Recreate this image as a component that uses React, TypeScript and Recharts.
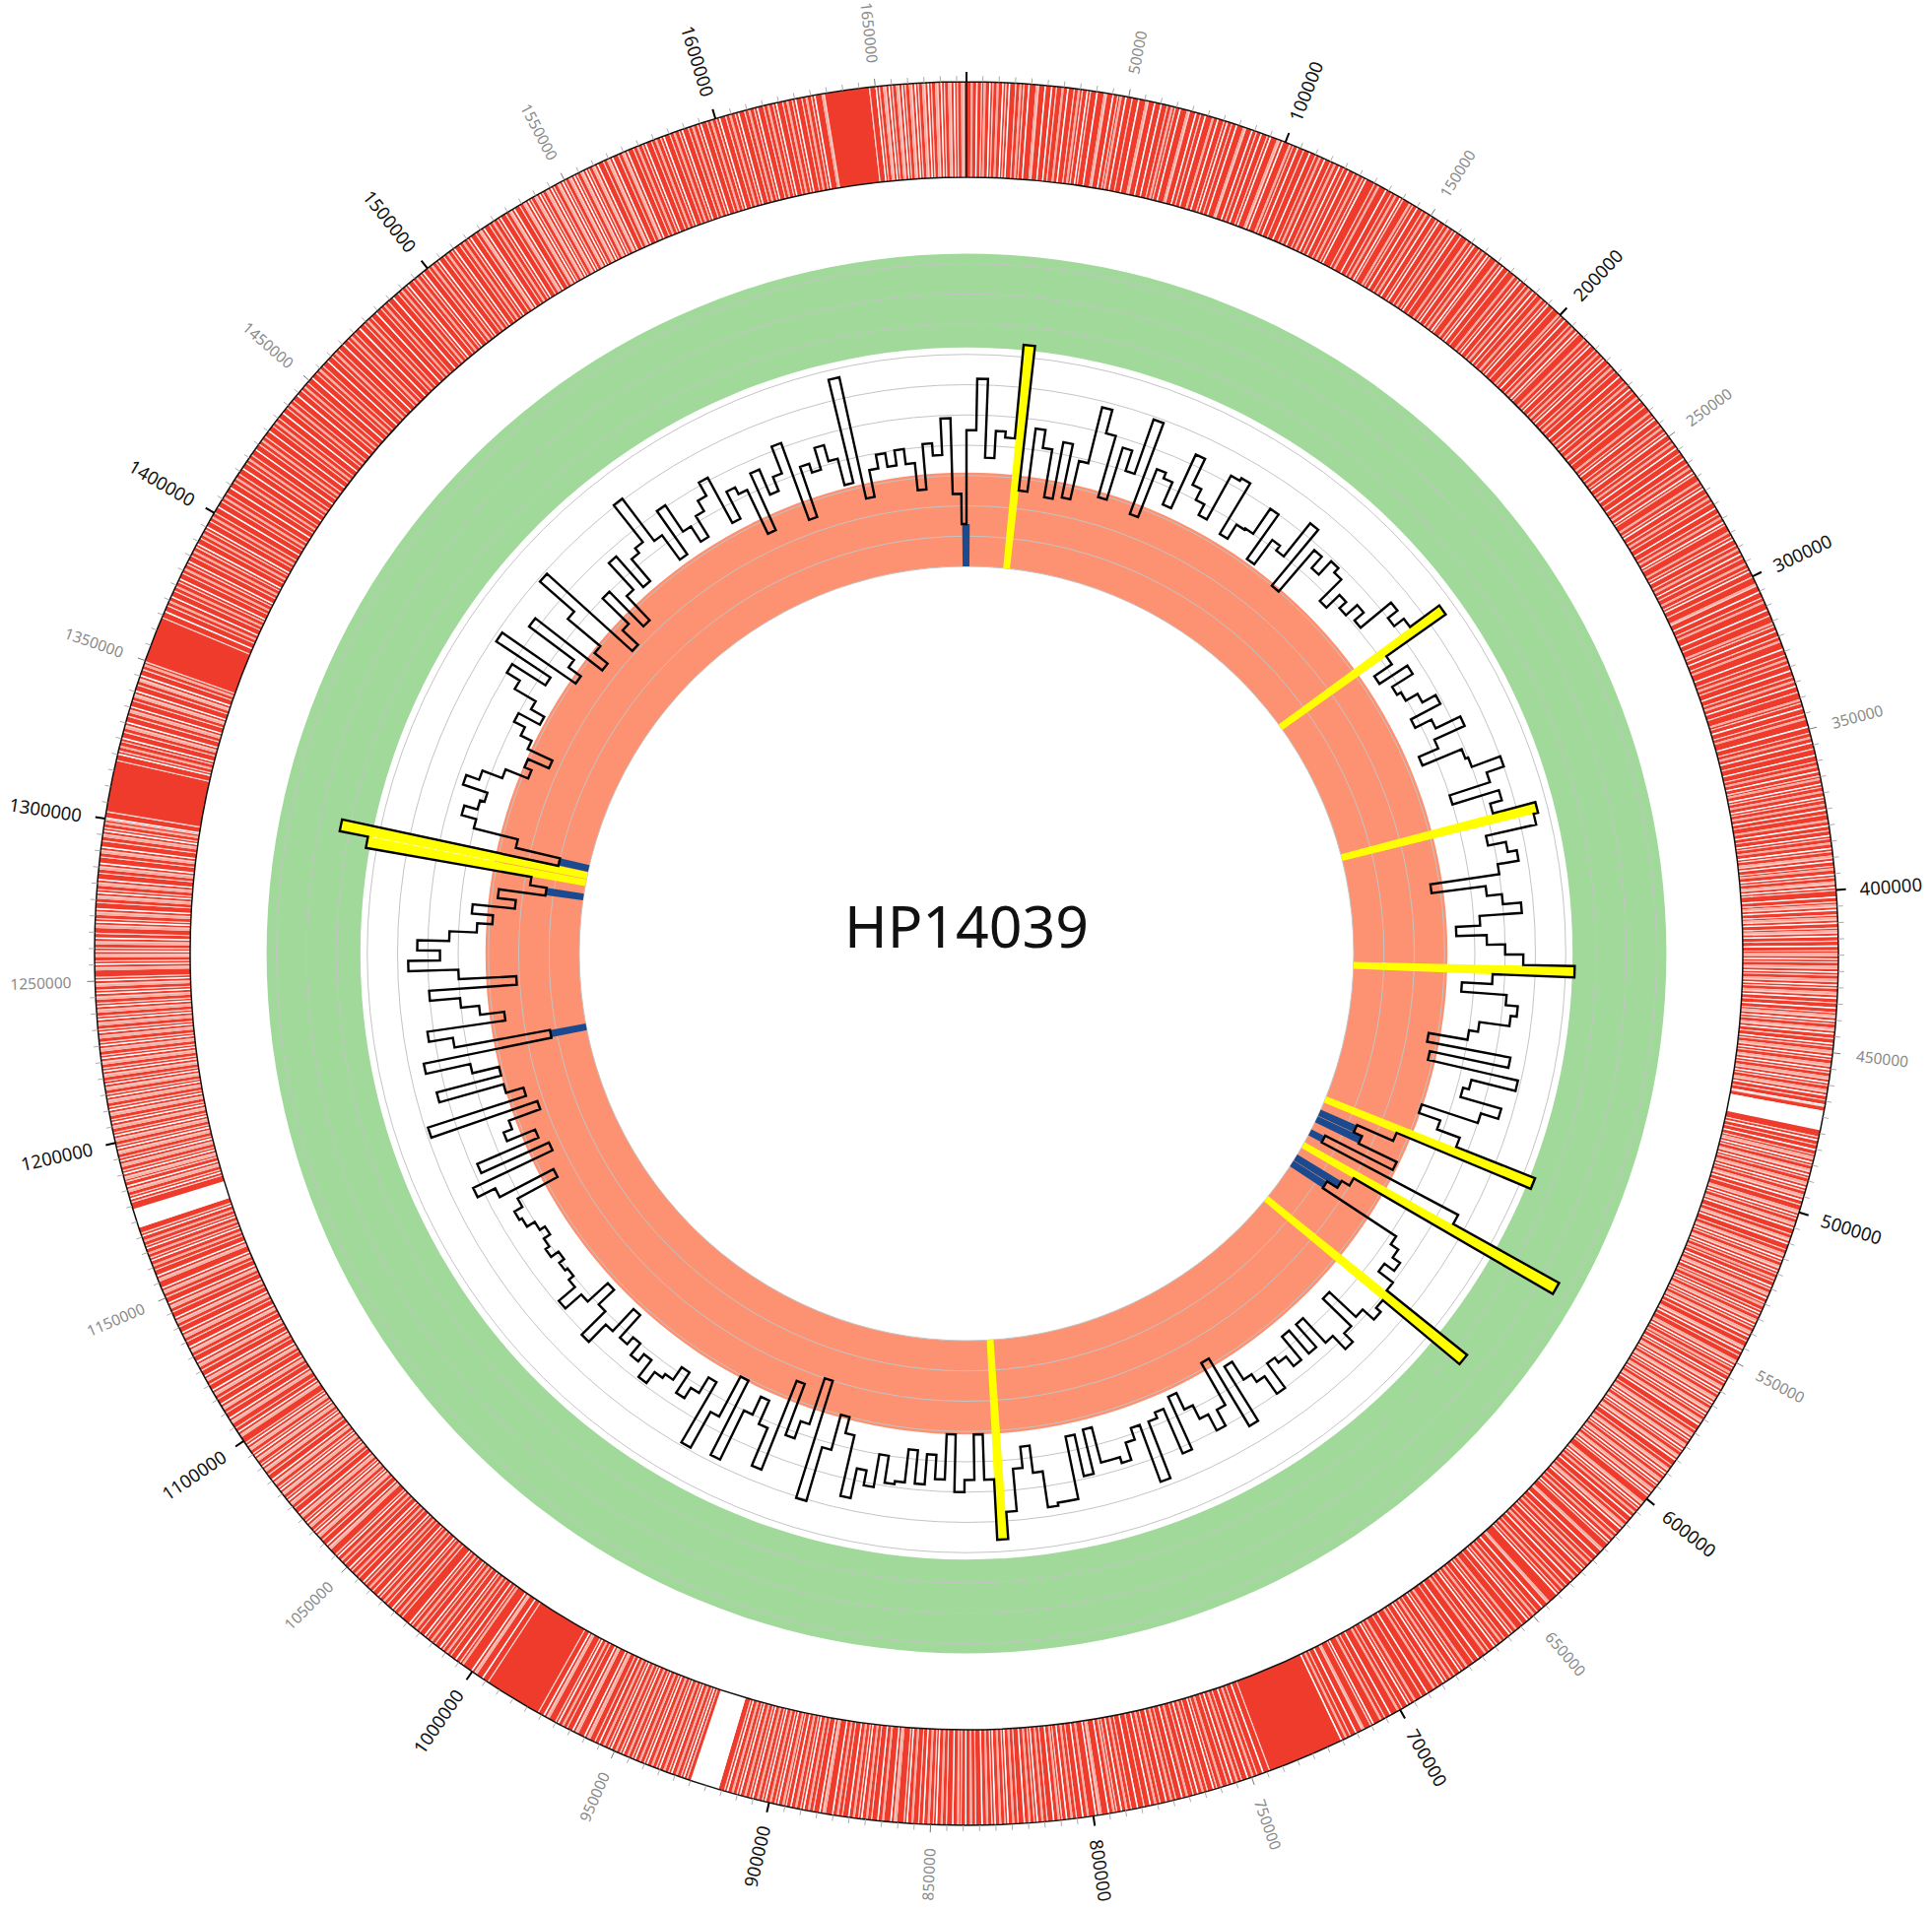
import React from "react";
import {
  Cell,
  Label,
  Pie,
  PieChart,
  PolarAngleAxis,
  PolarGrid,
  PolarRadiusAxis,
  Radar,
  RadarChart,
  RadialBar,
  RadialBarChart,
} from "recharts";

const GENOME_NAME = "HP14039";
const GENOME_LENGTH = 1678000;
const WINDOW = 5000;

// step track, one value per 5 kb window (grid units, 0 = inner edge of salmon band)
const windowValues = [
  4.5, 6.2, 3.6, 4.5, 4.3, 7.4, 2.6, 4.7, 4.1, 2.5,
  4.4, 2.6, 3.9, 5.8, 5.0, 2.9, 4.7, 4.0, 5.9, 2.7,
  4.4, 4.2, 3.4, 5.35, 4.4, 4.0, 3.6, 5.25, 5.35, 3.4,
  3.95, 4.0, 5.0, 3.2, 4.2, 4.0, 5.4, 3.0, 4.8, 4.3,
  4.9, 4.7, 3.7, 4.3, 4.0, 4.5, 4.1, 5.4, 5.0, 5.4,
  6.6, 4.2, 3.5, 4.6, 3.8, 3.95, 4.4, 4.9, 3.8, 4.4,
  5.3, 4.2, 3.5, 4.9, 5.0, 6.0, 5.4, 4.0, 5.6, 5.2,
  6.65, 6.5, 4.8, 5.4, 5.7, 5.0, 2.7, 4.5, 5.0, 5.6,
  4.2, 3.4, 4.4, 5.0, 5.6, 7.3, 4.6, 3.6, 5.1, 5.5,
  5.3, 4.3, 4.0, 2.7, 5.5, 2.85, 5.9, 4.4, 4.2, 5.6,
  5.0, 3.05, 3.8, 4.6, 7.4, 2.6, 1.3, 1.6, 3.0, 0.5,
  5.6, 9.6, 2.0, 1.7, 1.3, 4.2, 4.5, 4.8, 4.4, 5.0,
  8.4, 5.1, 5.3, 4.8, 3.6, 4.9, 5.3, 4.7, 3.6, 4.6,
  3.6, 4.6, 4.2, 4.0, 5.0, 4.3, 4.0, 3.3, 5.4, 2.8,
  4.4, 5.0, 4.4, 3.9, 3.3, 5.2, 3.6, 3.8, 5.8, 3.8,
  4.2, 4.8, 4.6, 4.6, 3.4, 4.9, 3.5, 5.6, 5.6, 5.7,
  4.5, 3.6, 4.3, 5.7, 6.6, 4.6, 3.1, 4.6, 5.0, 3.1,
  4.6, 3.8, 4.8, 3.7, 4.8, 4.9, 4.0, 5.1, 4.6, 5.6,
  3.55, 3.0, 4.2, 6.05, 2.0, 3.6, 4.2, 2.4, 5.55, 4.2,
  3.35, 4.0, 5.8, 3.05, 4.55, 5.9, 3.6, 4.2, 4.6, 3.8,
  4.3, 4.45, 4.9, 4.2, 4.5, 4.0, 4.3, 3.3, 4.3, 5.1,
  4.0, 3.3, 4.2, 4.9, 4.2, 4.0, 4.1, 3.9, 4.2, 4.05,
  3.8, 4.0, 4.3, 4.4, 4.1, 2.6, 4.6, 5.25, 2.35, 4.8,
  2.6, 3.6, 3.3, 2.2, 5.9, 2.5, 3.1, 5.3, 3.1, 4.0,
  5.5, 1.2, 4.4, 5.2, 2.6, 3.4, 4.0, 5.0, 2.1, 4.0,
  5.65, 4.6, 5.35, 4.3, 3.4, 2.9, 3.6, 2.2, 2.8, 1.25,
  1.8, 7.35, 8.3, 1.0, 2.5, 4.0, 4.5, 4.05, 3.9, 4.75,
  4.3, 3.6, 2.8, 3.05, 2.3, 3.2, 3.6, 4.0, 3.2, 3.7,
  4.5, 5.0, 3.7, 5.85, 2.9, 3.4, 5.25, 2.45, 3.0, 4.4,
  5.9, 2.1, 2.8, 4.0, 2.4, 3.5, 4.7, 3.35, 4.3, 4.5,
  6.05, 4.3, 3.3, 5.05, 4.0, 3.4, 4.2, 4.6, 5.1, 3.4,
  4.4, 4.15, 2.55, 4.6, 3.7, 4.2, 5.15, 2.45, 4.2, 3.9,
  4.65, 4.1, 3.2, 6.7, 2.6, 3.5, 3.95, 3.5, 4.0, 3.5,
  2.6, 4.1, 3.7, 4.9, 2.4, 1.4,
];

// windows highlighted as high (yellow) and low (blue)
const yellowWindows = [5, 50, 70, 85, 104, 111, 120, 164, 261, 262];
const blueWindows = [106, 107, 109, 113, 114, 241, 259, 263, 335];

// feature ring: light stripes (kb) and wider empty stretches
const whiteStripesKb = [
  3, 7, 11, 13, 19, 24, 26, 31, 37, 40, 45, 49, 53, 58, 60, 66, 71, 74, 78, 81, 84, 89, 92, 95, 99,
  104, 108, 113, 118, 121, 127, 134, 139, 145, 150, 153, 159, 166, 171, 177, 184, 189, 195,
  202, 207, 213, 219, 226, 231, 236, 243, 249, 254, 258, 263, 269, 276, 281, 287, 292, 298,
  305, 311, 318, 324, 331, 336, 343, 349, 354, 358, 363, 367, 371, 375, 380, 383, 387, 391, 395, 399,
  402, 406, 410, 414, 417, 421, 425, 429, 433, 436, 440, 444, 447, 451, 455, 459, 463, 466, 477, 480, 484, 488, 492, 496,
  501, 505, 510, 515, 519, 524, 528, 533, 537, 541, 546, 551, 556, 560, 564, 568, 572, 577, 581, 585, 590, 594, 598,
  603, 607, 612, 617, 623, 629, 634, 640, 646, 652, 659, 665, 671, 678, 684, 690, 697,
  703, 709, 715, 720, 746, 751, 756, 762, 767, 772, 777, 782, 786, 791, 795, 799,
  803, 808, 812, 817, 821, 826, 830, 834, 839, 843, 848, 852, 857, 862, 866, 871, 875, 880, 884, 889, 893, 897,
  901, 905, 909, 913, 927, 931, 935, 939, 943, 947, 951, 955, 960, 964, 969, 974, 996,
  1000, 1006, 1012, 1018, 1024, 1031, 1037, 1043, 1049, 1054, 1059, 1064, 1068, 1072, 1077, 1081, 1085, 1090, 1094, 1098,
  1103, 1108, 1113, 1118, 1123, 1128, 1133, 1138, 1143, 1148, 1153, 1157, 1162, 1166, 1170, 1182, 1186, 1190, 1194, 1198,
  1202, 1206, 1210, 1214, 1218, 1222, 1226, 1230, 1234, 1238, 1242, 1246, 1250, 1255, 1259, 1263, 1268, 1272, 1277, 1281, 1286, 1291, 1296, 1300,
  1320, 1325, 1330, 1335, 1340, 1345, 1366, 1371, 1377, 1383, 1389, 1395,
  1402, 1409, 1416, 1423, 1430, 1437, 1444, 1451, 1458, 1465, 1472, 1479, 1486, 1492, 1498,
  1504, 1510, 1516, 1521, 1527, 1532, 1537, 1541, 1545, 1549, 1553, 1557, 1561, 1566, 1571, 1577, 1583, 1589, 1595,
  1601, 1607, 1613, 1619, 1625, 1631, 1650, 1654, 1658, 1662, 1666, 1670, 1674,
];
const pinkStripesKb = [
  1, 5, 9, 16, 21, 29, 34, 42, 47, 55, 63, 68, 76, 86, 97, 101, 111, 116, 124, 131, 137, 142, 148, 156, 163, 169, 174,
  181, 187, 192, 199, 205, 210, 216, 222, 229, 234, 240, 246, 252, 261, 266, 272, 279, 284, 290, 295, 302, 308, 315,
  321, 327, 334, 340, 346, 352, 361, 365, 369, 373, 378, 385, 389, 393, 397, 404, 408, 412, 419, 423, 427, 431, 438,
  442, 449, 453, 457, 461, 482, 486, 490, 494, 499, 503, 508, 513, 517, 521, 526, 530, 535, 539, 544, 549, 553, 558,
  562, 566, 570, 575, 579, 583, 588, 592, 596, 601, 605, 610, 615, 620, 626, 632, 637, 643, 649, 656, 662, 668, 675,
  681, 687, 694, 700, 706, 712, 718, 749, 754, 759, 765, 770, 775, 780, 789, 793, 797, 801, 806, 810, 815, 819, 824,
  828, 832, 837, 841, 846, 850, 855, 860, 864, 869, 873, 878, 882, 887, 891, 895, 899, 903, 907, 911, 929, 933, 937,
  941, 945, 949, 953, 958, 962, 967, 972, 998, 1003, 1009, 1015, 1021, 1028, 1034, 1040, 1046, 1052, 1057, 1062,
  1066, 1070, 1075, 1079, 1083, 1088, 1092, 1096, 1101, 1106, 1111, 1116, 1121, 1126, 1131, 1136, 1141, 1146, 1151,
  1155, 1160, 1164, 1168, 1184, 1188, 1192, 1196, 1200, 1204, 1208, 1212, 1216, 1220, 1224, 1228, 1232, 1236, 1240,
  1244, 1248, 1253, 1257, 1261, 1266, 1270, 1275, 1279, 1284, 1289, 1294, 1298, 1322, 1328, 1333, 1338, 1343, 1348,
  1369, 1374, 1380, 1386, 1392, 1398, 1405, 1412, 1419, 1426, 1433, 1440, 1447, 1454, 1461, 1468, 1475, 1482, 1489,
  1495, 1501, 1507, 1513, 1519, 1524, 1530, 1535, 1539, 1543, 1547, 1551, 1555, 1559, 1564, 1569, 1574, 1580, 1586,
  1592, 1598, 1604, 1610, 1616, 1622, 1628, 1633, 1652, 1656, 1660, 1664, 1668, 1672, 1676,
];
const paleStripesKb = [
  4.5, 8, 12, 15, 17.5, 22, 27.5, 33, 35.5, 38, 43, 46.5, 51, 56, 62, 64.5, 69, 72.5, 80, 82.5, 87, 90.5, 94, 98,
  102.5, 106, 110, 115, 119.5, 123, 126, 130, 136, 140, 143.5, 147, 152, 155, 158, 161, 165, 168, 172, 176, 179, 183,
  186, 190.5, 194, 197, 200.5, 204, 208, 212, 215, 218, 221, 224, 228, 232.5, 238, 242, 245, 248, 251, 256, 260, 264,
  268, 271, 274, 278, 282, 286, 289, 293.5, 297, 300, 303, 307, 313, 316.5, 320, 326, 329, 333, 338, 341.5, 345, 351,
  356, 360, 364.5, 368, 372, 376.5, 381.5, 384, 388, 390, 392.5, 396, 398, 400, 403.5, 405, 407.5, 409, 411.5, 413,
  415.5, 418.5, 420, 422, 424, 426, 428, 430, 432, 434.5, 437.5, 439, 441, 443, 445.5, 448, 450, 452, 454, 456, 458,
  460, 462, 464.5, 466.5, 476, 478.5, 481.5, 483, 485, 487, 489, 491, 493, 495, 497.5, 500, 502, 504, 507, 509, 512,
  514, 516, 518, 520, 522.5, 525, 527, 529.5, 532, 534, 536, 538, 540, 542.5, 545, 547.5, 550, 552, 554.5, 557, 559,
  561, 563, 565, 567, 569, 571, 574, 576, 578, 580, 582, 584, 587, 589, 591, 593, 595, 597, 599, 602, 604, 609, 611,
  614, 618, 621, 625, 628, 631, 636, 639, 644, 648, 651, 654, 658, 661, 664, 667, 673, 677, 680, 683, 686, 692, 696,
  699, 705, 710, 713, 717, 744, 748, 753, 757.5, 761, 764, 768.5, 774, 779, 784, 788, 792.5, 798, 805, 809.5, 814,
  818, 823, 827, 831, 836, 840.5, 845, 849, 853.5, 858, 861, 868, 872, 877, 883, 886, 890, 894.5, 898, 902, 906, 910,
  914, 926, 928, 932, 936, 940, 944, 948, 952, 956.5, 959, 963, 966, 970, 973, 976, 994, 999, 1004.5, 1008, 1011,
  1014, 1017, 1020, 1023, 1027, 1030, 1033, 1036, 1039, 1042, 1045, 1048, 1051, 1055, 1058, 1061, 1063, 1065, 1067,
  1069, 1071, 1074, 1076, 1078, 1080, 1082, 1084, 1087, 1089, 1091, 1093, 1095, 1097, 1099, 1102, 1104.5, 1107, 1110,
  1112, 1115, 1117, 1120, 1122, 1125, 1127, 1130, 1132, 1135, 1137, 1140, 1142, 1145, 1147, 1150, 1152, 1156, 1159,
  1163, 1167, 1171, 1181, 1183, 1185, 1187.5, 1189, 1191, 1193, 1195, 1197, 1199, 1201, 1203, 1205, 1207, 1209, 1211,
  1213, 1215, 1217, 1219, 1221, 1223, 1225, 1227, 1229, 1231, 1233, 1235, 1237, 1239, 1241, 1243, 1245, 1247, 1249,
  1251, 1254, 1256, 1258, 1260, 1262, 1264.5, 1267, 1269, 1271, 1274, 1276, 1278, 1280, 1283, 1285, 1288, 1290, 1293,
  1295, 1297, 1299.5, 1302, 1318, 1321, 1324, 1327, 1329, 1332, 1334, 1337, 1339, 1342, 1344, 1347, 1349.5, 1364,
  1368, 1373, 1376, 1379, 1382, 1385, 1388, 1391, 1394, 1397, 1400, 1404, 1407, 1411, 1414, 1418, 1421, 1425, 1428,
  1432, 1435, 1439, 1442, 1446, 1449, 1453, 1456, 1460, 1463, 1467, 1470, 1474, 1477, 1481, 1484, 1488, 1491, 1494,
  1497, 1500, 1503, 1506, 1509, 1512, 1515, 1518, 1520, 1523, 1526, 1529, 1531, 1534, 1536, 1538, 1540, 1542, 1544,
  1546, 1548, 1550, 1552, 1554, 1556, 1558, 1560, 1563, 1565, 1568, 1570, 1573, 1576, 1579, 1582, 1585, 1588, 1591,
  1594, 1597, 1600, 1603, 1606, 1609, 1612, 1615, 1618, 1621, 1624, 1627, 1630, 1634, 1648, 1651, 1653, 1655, 1657,
  1659, 1661, 1663, 1665, 1667, 1669, 1671, 1673, 1675, 1677,
];
const openGapsKb: [number, number][] = [
  [468, 474],
  [916, 925],
  [1173, 1179],
];

const labelPositions = [
  50000, 100000, 150000, 200000, 250000, 300000, 350000, 400000, 450000, 500000,
  550000, 600000, 650000, 700000, 750000, 800000, 850000, 900000, 950000, 1000000,
  1050000, 1100000, 1150000, 1200000, 1250000, 1300000, 1350000, 1400000, 1450000,
  1500000, 1550000, 1600000, 1650000,
];
const gridLevels = [0, 1, 2, 3, 4, 5, 6, 7, 8, 9, 10];

const W = 1961;
const H = 1940;
const CX = 981;
const CY = 968;
const R_IN = 393;
const R_OUT = 885;
const R_RING_IN = 788;
const U_MAX = 15.5;
const radiusAt = (u: number) => R_IN + (u / U_MAX) * (R_OUT - R_IN);

const RED = "#ef3b2c";
const PINK = "#f8b0a4";
const PALE = "#fcd2cb";
const WHITE = "#ffffff";
const GREEN = "#a1d99b";
const SALMON = "#fc9272";
const YELLOW = "#ffff00";
const BLUE = "#1c4a8e";
const GRID = "#c4c4c4";
const FONT = "'Noto Sans', 'DejaVu Sans', sans-serif";
const NO_MARGIN = { top: 0, right: 0, bottom: 0, left: 0 };

const axisTicks = Array.from({ length: Math.ceil(GENOME_LENGTH / WINDOW) }, (_, i) => i * WINDOW);
const labelSet = new Set(labelPositions);

const stepPoints = windowValues.flatMap((v, i) => [
  { pos: i * WINDOW, v },
  { pos: Math.min((i + 1) * WINDOW, GENOME_LENGTH), v },
]);

const highlightRows = [
  ...yellowWindows.map((i) => ({ pos: i * WINDOW + WINDOW / 2, value: windowValues[i], color: YELLOW })),
  ...blueWindows.map((i) => ({ pos: i * WINDOW + WINDOW / 2, value: windowValues[i], color: BLUE })),
];

type Stripe = { start: number; len: number; fill: string };
const stripes: Stripe[] = [
  ...whiteStripesKb.map((kb) => ({ start: kb * 1000, len: 450, fill: WHITE })),
  ...pinkStripesKb.map((kb) => ({ start: kb * 1000 + 300, len: 650, fill: PINK })),
  ...paleStripesKb.map((kb) => ({ start: kb * 1000, len: 350, fill: PALE })),
  ...openGapsKb.map(([a, b]) => ({ start: a * 1000, len: (b - a) * 1000, fill: WHITE })),
].sort((a, b) => a.start - b.start);

const ringSegments: { len: number; fill: string }[] = [];
let cursor = 0;
for (const s of stripes) {
  const start = Math.max(s.start, cursor);
  const end = Math.min(s.start + s.len, GENOME_LENGTH);
  if (end <= start) continue;
  if (start > cursor) ringSegments.push({ len: start - cursor, fill: RED });
  ringSegments.push({ len: end - start, fill: s.fill });
  cursor = end;
}
if (cursor < GENOME_LENGTH) ringSegments.push({ len: GENOME_LENGTH - cursor, fill: RED });

function GenomeTick(props: any) {
  const { x, y, payload } = props;
  const pos: number = payload.value;
  const ang: number = payload.coordinate;
  const rad = (-ang * Math.PI) / 180;
  const dx = Math.cos(rad);
  const dy = Math.sin(rad);
  const major = pos % 100000 === 0;
  const mid = pos % 50000 === 0;
  const len = major ? 10 : mid ? 8 : 6;
  const theta = (((90 - ang) % 360) + 360) % 360;
  const right = theta < 180;
  const rot = right ? theta - 90 : theta - 270;
  const lx = x + dx * 24;
  const ly = y + dy * 24;
  return (
    <g>
      <line
        x1={x}
        y1={y}
        x2={x + dx * len}
        y2={y + dy * len}
        stroke={major ? "#000" : mid ? "#777" : "#aaa"}
        strokeWidth={major ? 2 : 1}
      />
      {labelSet.has(pos) && (
        <text
          x={lx}
          y={ly}
          transform={`rotate(${rot} ${lx} ${ly})`}
          textAnchor={right ? "start" : "end"}
          dominantBaseline="central"
          fontFamily={FONT}
          fontSize={major ? 18.5 : 15.5}
          fill={major ? "#111" : "#8a8a8a"}
        >
          {pos}
        </text>
      )}
    </g>
  );
}

const layer: React.CSSProperties = { position: "absolute", left: 0, top: 0, width: W, height: H };

export default function App() {
  return (
    <div style={{ ...layer, background: "#fff", overflow: "hidden" }}>
      <div style={layer}>
        <PieChart width={W} height={H} margin={NO_MARGIN}>
          <Pie
            data={[{ v: 1 }]}
            dataKey="v"
            cx={CX}
            cy={CY}
            innerRadius={radiusAt(7)}
            outerRadius={radiusAt(10)}
            startAngle={90}
            endAngle={-270}
            fill={GREEN}
            stroke="none"
            isAnimationActive={false}
          />
          <Pie
            data={[{ v: 1 }]}
            dataKey="v"
            cx={CX}
            cy={CY}
            innerRadius={radiusAt(0)}
            outerRadius={radiusAt(3)}
            startAngle={90}
            endAngle={-270}
            fill={SALMON}
            stroke="none"
            isAnimationActive={false}
          >
            <Label
              position="center"
              content={() => (
                <text
                  x={CX}
                  y={CY - 6}
                  textAnchor="middle"
                  fontFamily={FONT}
                  fontSize={59}
                  fill="#111"
                >
                  {GENOME_NAME}
                </text>
              )}
            />
          </Pie>
          <Pie
            data={ringSegments}
            dataKey="len"
            cx={CX}
            cy={CY}
            innerRadius={R_RING_IN}
            outerRadius={R_OUT}
            startAngle={90}
            endAngle={-270}
            stroke="none"
            isAnimationActive={false}
          >
            {ringSegments.map((s, i) => (
              <Cell key={i} fill={s.fill} stroke="none" />
            ))}
          </Pie>
          <Pie
            data={[{ v: 1 }]}
            dataKey="v"
            cx={CX}
            cy={CY}
            innerRadius={R_RING_IN}
            outerRadius={R_OUT}
            startAngle={90}
            endAngle={-270}
            fill="none"
            stroke="#111"
            strokeWidth={1.5}
            isAnimationActive={false}
          />
        </PieChart>
      </div>

      <div style={layer}>
        <RadialBarChart
          width={W}
          height={H}
          data={highlightRows}
          cx={CX}
          cy={CY}
          innerRadius={R_IN}
          outerRadius={R_OUT}
          startAngle={90}
          endAngle={-270}
          layout="centric"
          barCategoryGap={0}
          margin={NO_MARGIN}
        >
          <PolarGrid gridType="circle" radialLines={false} stroke={GRID} strokeWidth={1} />
          <PolarAngleAxis
            type="number"
            dataKey="pos"
            domain={[0, GENOME_LENGTH]}
            ticks={axisTicks}
            tick={false}
            tickLine={false}
            axisLine={false}
          />
          <PolarRadiusAxis type="number" domain={[0, U_MAX]} ticks={gridLevels} tick={false} axisLine={false} />
          <RadialBar dataKey="value" isAnimationActive={false}>
            {highlightRows.map((r, i) => (
              <Cell key={i} fill={r.color} stroke="none" />
            ))}
          </RadialBar>
        </RadialBarChart>
      </div>

      <div style={layer}>
        <RadarChart
          width={W}
          height={H}
          data={stepPoints}
          cx={CX}
          cy={CY}
          innerRadius={R_IN}
          outerRadius={R_OUT}
          startAngle={90}
          endAngle={-270}
          margin={NO_MARGIN}
        >
          <PolarAngleAxis
            type="number"
            dataKey="pos"
            domain={[0, GENOME_LENGTH]}
            ticks={axisTicks}
            tick={(p: any) => <GenomeTick {...p} />}
            tickLine={false}
            axisLine={false}
            tickSize={0.01}
          />
          <PolarRadiusAxis type="number" domain={[0, U_MAX]} tick={false} axisLine={false} />
          <Radar
            dataKey="v"
            stroke="#000"
            strokeWidth={2.4}
            strokeLinejoin="miter"
            fill="none"
            fillOpacity={0}
            dot={false}
            isAnimationActive={false}
          />
        </RadarChart>
      </div>
    </div>
  );
}
